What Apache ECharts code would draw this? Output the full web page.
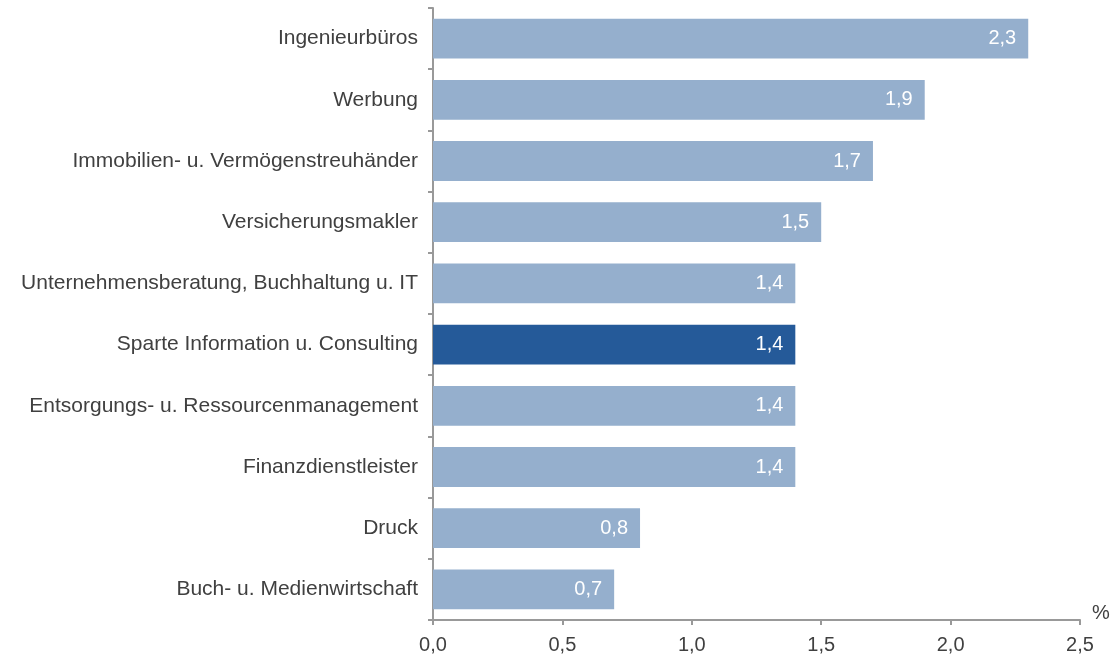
<!DOCTYPE html>
<html>
<head>
<meta charset="utf-8">
<script src="https://cdn.jsdelivr.net/npm/echarts@6/dist/echarts.min.js"></script>
<style>html,body{margin:0;padding:0;background:#fff}#c{width:1117px;height:662px}</style>
</head>
<body>
<div id="c"></div>
<script>
const categories = ["Ingenieurbüros","Werbung","Immobilien- u. Vermögenstreuhänder","Versicherungsmakler","Unternehmensberatung, Buchhaltung u. IT","Sparte Information u. Consulting","Entsorgungs- u. Ressourcenmanagement","Finanzdienstleister","Druck","Buch- u. Medienwirtschaft"];
const values = [2.3,1.9,1.7,1.5,1.4,1.4,1.4,1.4,0.8,0.7];
const highlightCategory = "Sparte Information u. Consulting";
const xTicks = [0,0.5,1.0,1.5,2.0,2.5];

const fmt = v => v.toFixed(1).replace('.', ',');
const FONT = 'Liberation Sans';
const chart = echarts.init(document.getElementById('c'), null, {renderer:'canvas'});
chart.setOption({
  animation:false,
  grid:{left:433,right:37,top:8,bottom:42,containLabel:false},
  xAxis:{
    type:'value',min:xTicks[0],max:xTicks[xTicks.length-1],interval:0.5,
    name:'%',nameLocation:'end',nameGap:12,
    nameTextStyle:{color:'#404040',fontSize:20,fontFamily:FONT,verticalAlign:'bottom',padding:[0,0,-3,0]},
    axisLine:{show:true,lineStyle:{color:'#999',width:2}},
    axisTick:{show:true,length:5,lineStyle:{color:'#999',width:2}},
    axisLabel:{color:'#404040',fontSize:20,fontFamily:FONT,margin:15,formatter:v=>fmt(v)},
    splitLine:{show:false}
  },
  yAxis:{
    type:'category',data:categories,inverse:true,
    axisLine:{show:true,lineStyle:{color:'#999',width:2}},
    axisTick:{show:true,length:5,inside:false,alignWithLabel:false,lineStyle:{color:'#999',width:2}},
    axisLabel:{color:'#404040',fontSize:21,fontFamily:FONT,margin:15}
  },
  series:[{
    type:'bar',
    data:values.map((v,i)=>({value:v,itemStyle:{color:categories[i]===highlightCategory?'#255A99':'#95AFCD'}})),
    barCategoryGap:'35%',
    label:{show:true,position:'insideRight',distance:12,color:'#fff',fontSize:20,fontFamily:FONT,formatter:p=>fmt(p.value)}
  }]
});
</script>
</body>
</html>
